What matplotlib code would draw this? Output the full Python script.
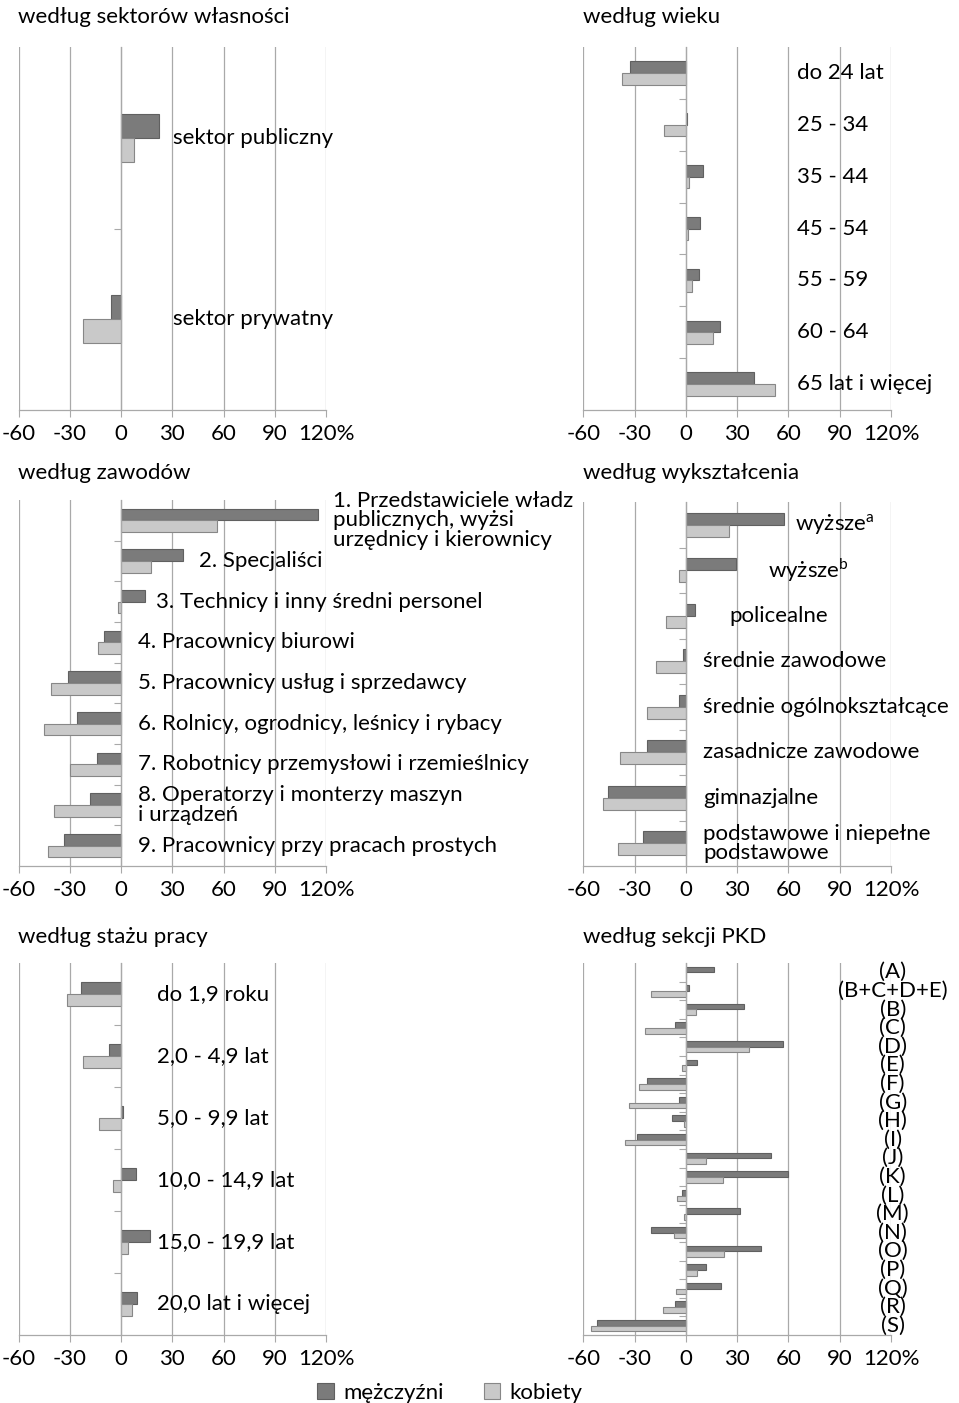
import matplotlib
matplotlib.use('Agg')
import matplotlib.pyplot as plt
import matplotlib.transforms as mtransforms
import numpy as np

plt.rcParams['font.family'] = ['Lato', 'DejaVu Sans']
plt.rcParams['mathtext.fontset'] = 'custom'
plt.rcParams['mathtext.rm'] = 'Lato'

# --- data (percent change, men / women) ---
sektor_cats = ['sektor publiczny', 'sektor prywatny']
sektor_m = [22.0, -5.8]
sektor_k = [7.4, -22.0]

wiek_cats = ['do 24 lat', '25 - 34', '35 - 44', '45 - 54', '55 - 59', '60 - 64', '65 lat i więcej']
wiek_m = [-32.4, 0.6, 10.1, 8.0, 7.4, 19.7, 39.6]
wiek_k = [-37.6, -12.5, 1.6, 1.5, 3.3, 16.0, 52.3]

zawody_cats = ['1. Przedstawiciele władz\npublicznych, wyżsi\nurzędnicy i kierownicy',
               '2. Specjaliści',
               '3. Technicy i inny średni personel',
               '4. Pracownicy biurowi',
               '5. Pracownicy usług i sprzedawcy',
               '6. Rolnicy, ogrodnicy, leśnicy i rybacy',
               '7. Robotnicy przemysłowi i rzemieślnicy',
               '8. Operatorzy i monterzy maszyn\ni urządzeń',
               '9. Pracownicy przy pracach prostych']
zawody_m = [115.5, 36.2, 13.9, -10.0, -31.0, -25.7, -13.9, -18.0, -33.4]
zawody_k = [56.2, 17.8, -1.5, -13.7, -40.7, -44.8, -29.8, -39.0, -42.6]

wyksz_cats = ['wyższe$^{\\mathrm{a}}$', 'wyższe$^{\\mathrm{b}}$', 'policealne', 'średnie zawodowe',
              'średnie ogólnokształcące', 'zasadnicze zawodowe', 'gimnazjalne',
              'podstawowe i niepełne\npodstawowe']
wyksz_m = [57.3, 29.6, 5.1, -1.9, -4.3, -22.8, -45.8, -25.0]
wyksz_k = [25.4, -4.3, -11.5, -17.4, -22.8, -38.8, -48.6, -39.8]

staz_cats = ['do 1,9 roku', '2,0 - 4,9 lat', '5,0 - 9,9 lat', '10,0 - 14,9 lat',
             '15,0 - 19,9 lat', '20,0 lat i więcej']
staz_m = [-23.4, -6.8, 1.0, 8.6, 16.8, 9.2]
staz_k = [-31.8, -22.2, -12.9, -4.5, 4.3, 6.6]

pkd_cats = ['(A)', '(B+C+D+E)', '(B)', '(C)', '(D)', '(E)', '(F)', '(G)', '(H)', '(I)',
            '(J)', '(K)', '(L)', '(M)', '(N)', '(O)', '(P)', '(Q)', '(R)', '(S)']
pkd_m = [16.2, 2.1, 34.1, -6.4, 57.1, 6.4, -22.8, -4.1, -8.2, -28.7,
         49.7, 60.0, -2.3, 31.4, -20.3, 43.7, 11.5, 20.7, -6.4, -52.0]
pkd_k = [0.0, -20.3, 6.2, -24.0, 37.2, -2.1, -27.3, -33.0, -1.2, -35.5,
         11.5, 21.5, -5.1, -1.0, -6.8, 22.4, 6.6, -5.5, -13.3, -55.4]

x_ticks = [-60, -30, 0, 30, 60, 90, 120]
x_labels = ['-60', '-30', '0', '30', '60', '90', '120%']

MEN = '#7b7b7b'
MEN_EDGE = '#606060'
WOM = '#c9c9c9'
WOM_EDGE = '#878787'
GRID = '#a9a9a9'
FS = 16

W, H = 959, 1403
fig = plt.figure(figsize=(W / 100, H / 100), dpi=100)


def add_ax(x0, x1, y0, y1):
    return fig.add_axes([x0 / W, 1 - y1 / H, (x1 - x0) / W, (y1 - y0) / H])


def draw_panel(ax, cats, m, k, bar_h, label_x, title, title_xy, ha='left', lsp=0.95):
    n = len(cats)
    y = np.arange(n)
    bm = ax.barh(y - bar_h / 2, m, height=bar_h, color=MEN, edgecolor=MEN_EDGE, linewidth=0.8, zorder=3)
    bk = ax.barh(y + bar_h / 2, k, height=bar_h, color=WOM, edgecolor=WOM_EDGE, linewidth=0.8, zorder=3)
    ax.set_xlim(-60, 120)
    ax.set_ylim(n - 0.5, -0.5)
    ax.set_xticks(x_ticks)
    ax.set_xticklabels(x_labels, fontsize=FS)
    last = ax.get_xticklabels()[-1]
    last.set_transform(last.get_transform() + mtransforms.ScaledTranslation(10 / 100, 0, fig.dpi_scale_trans))
    ax.tick_params(axis='x', length=5, width=0.8, color=GRID, pad=5)
    ax.set_yticks(np.arange(n - 1) + 0.5)
    ax.set_yticklabels([])
    ax.tick_params(axis='y', length=5, width=0.8, color=GRID, direction='out')
    ax.spines['left'].set_position(('data', 0))
    for s in ['left', 'bottom']:
        ax.spines[s].set_color(GRID)
        ax.spines[s].set_linewidth(0.9)
        ax.spines[s].set_zorder(4)
    ax.spines['top'].set_visible(False)
    ax.spines['right'].set_visible(False)
    ax.xaxis.grid(True, color=GRID, linewidth=0.9, zorder=0)
    ax.set_axisbelow(True)
    for i, c in enumerate(cats):
        lx = label_x[i] if isinstance(label_x, (list, tuple)) else label_x
        ax.text(lx, i, c, ha=ha, va='center', fontsize=FS, linespacing=lsp,
                clip_on=False, zorder=5)
    fig.text(title_xy[0] / W, 1 - title_xy[1] / H, title, fontsize=FS, ha='left', va='center')
    return bm, bk


ax1 = add_ax(18.5, 326, 47, 410)
bm, bk = draw_panel(ax1, sektor_cats, sektor_m, sektor_k, 0.132, 30.5,
                    'według sektorów własności', (18, 17))

ax2 = add_ax(583.3, 891, 47, 410)
draw_panel(ax2, wiek_cats, wiek_m, wiek_k, 0.225, 65,
           'według wieku', (583, 17))

ax3 = add_ax(18.5, 326, 500, 866)
draw_panel(ax3, zawody_cats, zawody_m, zawody_k, 0.285,
           [124, 45.4, 20.7, 9.7, 9.7, 9.7, 9.7, 9.7, 9.7],
           'według zawodów', (18, 473))

ax4 = add_ax(583.3, 891, 502, 866)
draw_panel(ax4, wyksz_cats, wyksz_m, wyksz_k, 0.265,
           [63.8, 48, 25.2, 10, 10, 10, 10, 10],
           'według wykształcenia', (583, 473))

ax5 = add_ax(18.5, 326, 963, 1335)
draw_panel(ax5, staz_cats, staz_m, staz_k, 0.194, 21,
           'według stażu pracy', (18, 937))

ax6 = add_ax(583.3, 891, 963, 1335)
draw_panel(ax6, pkd_cats, pkd_m, pkd_k, 0.31, 121,
           'według sekcji PKD', (583, 937), ha='center')

fig.legend([bm, bk], ['mężczyźni', 'kobiety'], loc='center', bbox_to_anchor=(0.469, 1 - 1393 / H),
           ncol=2, frameon=False, fontsize=FS, handlelength=0.75, handleheight=0.75,
           handletextpad=0.4, columnspacing=1.8)

fig.savefig('out.png', dpi=100)
